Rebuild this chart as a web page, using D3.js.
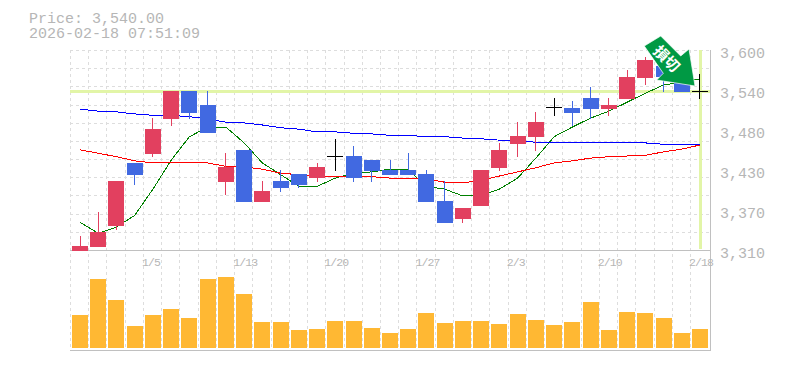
<!DOCTYPE html>
<html lang="ja">
<head>
    <meta charset="UTF-8">
    <title>Price chart</title>
    <script src="https://d3js.org/d3.v7.min.js"></script>
    <style>
        html, body { margin: 0; padding: 0; background: #fff; overflow: hidden; }
        svg { display: block; }
        text { font-family: "Liberation Mono", monospace; fill: #b6b6b6; }
        .big { font-size: 15px; }
        .small { font-size: 11.5px; letter-spacing: -0.9px; }
        .grid { stroke: #ddd; stroke-dasharray: 3 3; shape-rendering: crispEdges; }
        .frame { stroke: #c0c0c0; shape-rendering: crispEdges; }
        .band { stroke: #e2f5a7; stroke-width: 3; shape-rendering: crispEdges; }
        .ma { fill: none; stroke-width: 1; shape-rendering: crispEdges; }
    </style>
</head>
<body>
    <svg id="chart" width="785" height="370"></svg>

    <script>
        const dates = ["12/25","12/26","12/29","12/30","1/5","1/6","1/7","1/8","1/9","1/13","1/14","1/15","1/16","1/19","1/20","1/21","1/22","1/23","1/26","1/27","1/28","1/29","1/30","2/2","2/3","2/4","2/5","2/6","2/9","2/10","2/12","2/13","2/16","2/17","2/18"];
        const opens  = [3310,3315,3345,3437,3450,3501,3541,3521,3409,3456,3380,3411,3421,3415,3447,3447,3441,3427,3427,3421,3382,3356,3375,3430,3464,3475,3517,3517,3531,3515,3529,3560,3578,3560,3540];
        const highs  = [3331,3366,3411,3437,3502,3541,3541,3541,3451,3456,3411,3427,3421,3437,3472,3462,3441,3441,3451,3427,3411,3372,3427,3466,3496,3511,3531,3527,3547,3531,3572,3590,3586,3562,3566];
        const lows   = [3310,3315,3340,3405,3446,3491,3501,3480,3390,3380,3380,3395,3401,3409,3425,3409,3409,3419,3419,3380,3350,3350,3375,3425,3446,3454,3505,3491,3501,3505,3529,3550,3540,3540,3530];
        const closes = [3317,3337,3411,3419,3486,3541,3509,3480,3431,3380,3396,3401,3405,3431,3447,3415,3425,3419,3419,3380,3350,3372,3427,3456,3476,3496,3517,3509,3515,3521,3562,3586,3562,3540,3540];
        const volumes = [33,69,48,22,33,39,30,69,71,54,26,26,18,19,27,27,20,15,19,35,25,27,27,24,34,28,23,26,46,18,36,35,30,15,19];
        const maShort = [3351,3335,3344,3361,3399,3441,3475,3489,3489,3466,3437,3420,3403,3403,3415,3422,3424,3428,3427,3403,3399,3389,3390,3399,3415,3444,3475,3489,3502,3512,3525,3538,3550,3554,3559];
        const maMid   = [3456,3451,3446,3440,3437,3438,3438,3437,3432,3431,3428,3422,3420,3417,3417,3417,3417,3415,3414,3414,3409,3408,3412,3418,3424,3430,3437,3440,3444,3446,3447,3448,3453,3457,3463];
        const maLong  = [3515,3512,3511,3508,3506,3506,3504,3501,3496,3495,3492,3488,3486,3482,3482,3480,3479,3477,3477,3475,3475,3473,3472,3470,3469,3467,3467,3467,3466,3466,3466,3466,3464,3463,3463];
        const priceTicks = ["3,600","3,540","3,480","3,430","3,370","3,310"];
        const dateTicks = ["1/5","1/13","1/20","1/27","2/3","2/10","2/18"];
        const lastPrice = 3540;
        const titleLines = ["Price: 3,540.00", "2026-02-18 07:51:09"];
        const signalLabel = "損切";

        const svg = d3.select("#chart");

        const x = d3.scaleBand().domain(dates).range([70.9, 709.1]).paddingInner(0.123).paddingOuter(0.0615);
        const cx = d => x(d) + x.bandwidth() / 2;
        const y = d3.scaleLinear().domain([3310, 3600]).range([250.5, 50.5]);
        const yVol = d3.scaleLinear().domain([0, d3.max(volumes)]).range([348, 277]);
        const yLabel = d3.scalePoint().domain(priceTicks).range([53, 253]);

        // luoi
        const gridPrices = d3.range(12).map(k => 3310 + k * 290 / 11);
        svg.append("g").selectAll("line").data(gridPrices).enter().append("line")
            .attr("class", "grid")
            .attr("x1", 70).attr("x2", 710)
            .attr("y1", d => y(d)).attr("y2", d => y(d));
        svg.append("g").selectAll("line").data(dates).enter().append("line")
            .attr("class", "grid")
            .attr("x1", d => x(d) - 1.5).attr("x2", d => x(d) - 1.5)
            .attr("y1", 50).attr("y2", 350);

        // khung
        const frame = svg.append("g");
        frame.append("line").attr("class", "frame").attr("x1", 70).attr("x2", 710).attr("y1", 250.5).attr("y2", 250.5);
        frame.append("line").attr("class", "frame").attr("x1", 70).attr("x2", 710).attr("y1", 350.5).attr("y2", 350.5);
        frame.append("line").attr("class", "frame").attr("x1", 710.5).attr("x2", 710.5).attr("y1", 50).attr("y2", 351);

        // gia hien tai
        svg.append("line").attr("class", "band")
            .attr("x1", 70).attr("x2", 710)
            .attr("y1", y(lastPrice)).attr("y2", y(lastPrice));
        svg.append("line").attr("class", "band")
            .attr("x1", cx(dates[dates.length - 1]) + 1).attr("x2", cx(dates[dates.length - 1]) + 1)
            .attr("y1", 50).attr("y2", 249);

        // duong trung binh
        const maLine = values => d3.line().x((d, i) => cx(dates[i])).y(d => y(d))(values);
        svg.append("path").attr("class", "ma").attr("stroke", "#008000").attr("d", maLine(maShort));
        svg.append("path").attr("class", "ma").attr("stroke", "#ff0000").attr("d", maLine(maMid));
        svg.append("path").attr("class", "ma").attr("stroke", "#0000ff").attr("d", maLine(maLong));

        // nen
        const candleColor = i => closes[i] > opens[i] ? "#e2405f" : closes[i] < opens[i] ? "#4169e1" : "#000";
        const candles = svg.append("g").attr("shape-rendering", "crispEdges");
        dates.forEach((d, i) => {
            candles.append("line")
                .attr("x1", cx(d)).attr("x2", cx(d))
                .attr("y1", y(highs[i])).attr("y2", Math.min(y(lows[i]), 250))
                .attr("stroke", candleColor(i));
            if (opens[i] === closes[i]) {
                candles.append("line")
                    .attr("x1", x(d)).attr("x2", x(d) + x.bandwidth())
                    .attr("y1", y(opens[i])).attr("y2", y(opens[i]))
                    .attr("stroke", candleColor(i));
            } else {
                candles.append("rect")
                    .attr("x", x(d))
                    .attr("width", x.bandwidth())
                    .attr("y", y(Math.max(opens[i], closes[i])))
                    .attr("height", Math.abs(y(opens[i]) - y(closes[i])))
                    .attr("fill", candleColor(i));
            }
        });

        // khoi luong
        svg.append("g").attr("shape-rendering", "crispEdges")
            .selectAll("rect").data(volumes).enter().append("rect")
            .attr("x", (d, i) => x(dates[i]))
            .attr("width", x.bandwidth())
            .attr("y", d => yVol(d))
            .attr("height", d => yVol(0) - yVol(d))
            .attr("fill", "#ffb833");

        // mui ten
        const arrow = svg.append("g");
        arrow.append("polygon")
            .attr("points", "660.7,36 680.7,56 689,49 695,86 656.7,80 663.3,73.3 644.3,46")
            .attr("fill", "#009944")
            .attr("stroke", "#fff")
            .attr("stroke-opacity", 0.7);
        arrow.append("text")
            .attr("transform", "translate(666.5,58.8) rotate(45)")
            .attr("text-anchor", "middle")
            .style("font-family", "'Noto Sans CJK JP'")
            .style("font-size", "15px")
            .style("font-weight", "700")
            .style("fill", "#fff")
            .attr("dy", "0.35em")
            .text(signalLabel);

        // truc ngay
        const xAxis = svg.append("g")
            .attr("transform", "translate(0,250.5)")
            .call(d3.axisBottom(x).tickValues(dateTicks).tickSize(0));
        xAxis.select(".domain").remove();
        xAxis.selectAll("text")
            .attr("class", "small")
            .attr("font-family", null).attr("font-size", null)
            .attr("text-anchor", "start")
            .attr("x", -11).attr("y", 15.5).attr("dy", 0);

        // truc gia
        svg.append("g").selectAll("text").data(priceTicks).enter().append("text")
            .attr("class", "big")
            .attr("x", 720)
            .attr("y", d => yLabel(d) + 4.5)
            .text(d => d);

        // tieu de
        svg.append("g").selectAll("text").data(titleLines).enter().append("text")
            .attr("class", "big")
            .attr("x", 29)
            .attr("y", (d, i) => 23 + i * 15)
            .text(d => d);
    </script>
</body>
</html>
